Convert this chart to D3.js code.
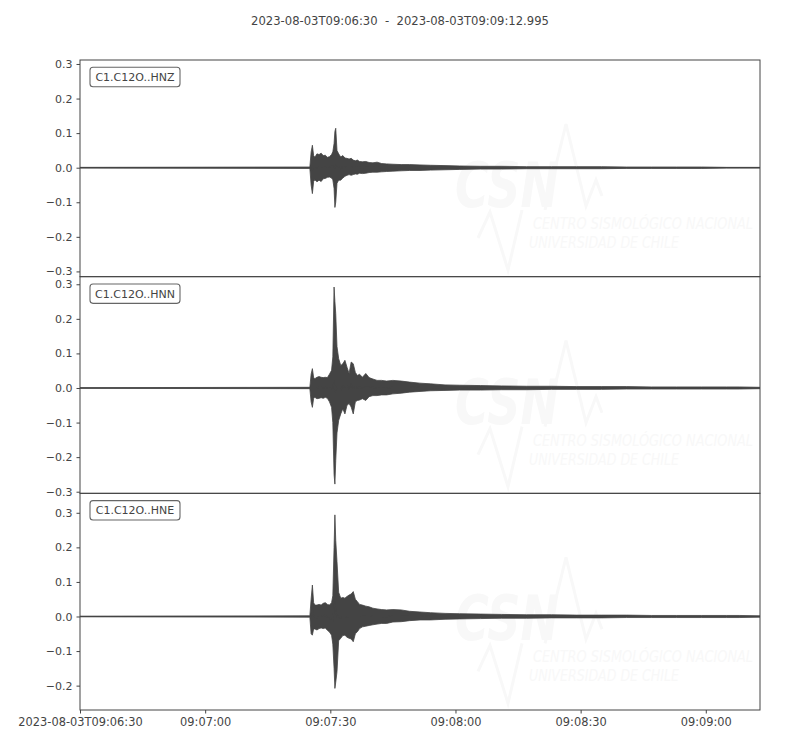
<!DOCTYPE html>
<html>
<head>
<meta charset="utf-8">
<script src="https://cdn.jsdelivr.net/npm/d3@7"></script>
<style>
  html, body { margin: 0; padding: 0; background: #fff; }
  svg { display: block; font-family: "DejaVu Sans", sans-serif; }
</style>
</head>
<body>
<svg id="chart" width="800" height="750"></svg>
<script>
// ---------------- DATA ----------------
const titleText = "2023-08-03T09:06:30  -  2023-08-03T09:09:12.995";
const channels = ["C1.C12O..HNZ", "C1.C12O..HNN", "C1.C12O..HNE"];
const totalSeconds = 162.995;
const xTickSeconds = [0, 30, 60, 90, 120, 150];
const xTickLabels = ["2023-08-03T09:06:30", "09:07:00", "09:07:30", "09:08:00", "09:08:30", "09:09:00"];
const yLimMax = [0.3115, 0.322, 0.3563];
const yLimMin = [-0.3152, -0.3047, -0.2705];
const yTicks = [
  [-0.3, -0.2, -0.1, 0.0, 0.1, 0.2, 0.3],
  [-0.3, -0.2, -0.1, 0.0, 0.1, 0.2, 0.3],
  [-0.2, -0.1, 0.0, 0.1, 0.2, 0.3]
];
// seconds after 09:06:30 (envelope sample times)
const times = [0, 55.1, 55.4, 55.7, 56.0, 56.3, 56.8, 57.3, 57.8, 58.3, 58.8, 59.3, 59.8, 60.3, 60.6, 60.9, 61.1, 61.3, 61.6, 62.0,
  62.5, 63.0, 63.5, 64.0, 64.5, 65.0, 65.5, 66.0, 66.5, 67.0, 67.7, 68.5, 69.3, 70.2, 71.2, 72.3, 73.5, 75.0, 77.0, 79.0,
  81.5, 84.0, 87.5, 91.0, 96.0, 101.0, 107.0, 113.0, 119.0, 125.0, 131.0, 137.0, 143.0, 149.0, 155.0, 158.0, 163.0];
const hnzMax = [0.001, 0.002, 0.045, 0.065, 0.035, 0.03, 0.04, 0.038, 0.042, 0.035, 0.036, 0.03, 0.032, 0.038, 0.046, 0.07, 0.105, 0.114, 0.05, 0.04,
  0.031, 0.035, 0.028, 0.027, 0.025, 0.027, 0.022, 0.02, 0.022, 0.018, 0.017, 0.018, 0.015, 0.014, 0.016, 0.012, 0.011, 0.01, 0.009, 0.009,
  0.008, 0.007, 0.006, 0.005, 0.004, 0.004, 0.003, 0.003, 0.003, 0.003, 0.002, 0.002, 0.002, 0.002, 0.001, 0.001, 0.001];
const hnzMin = [-0.001, -0.002, -0.05, -0.075, -0.04, -0.035, -0.041, -0.036, -0.04, -0.032, -0.031, -0.028, -0.027, -0.03, -0.035, -0.06, -0.115, -0.1, -0.045, -0.036,
  -0.036, -0.03, -0.025, -0.022, -0.02, -0.022, -0.02, -0.018, -0.019, -0.016, -0.017, -0.016, -0.014, -0.013, -0.013, -0.012, -0.011, -0.01, -0.009, -0.008,
  -0.008, -0.007, -0.006, -0.005, -0.004, -0.004, -0.003, -0.003, -0.003, -0.003, -0.002, -0.002, -0.002, -0.002, -0.001, -0.001, -0.001];
const hnnMax = [0.001, 0.002, 0.04, 0.056, 0.03, 0.027, 0.031, 0.033, 0.031, 0.03, 0.031, 0.03, 0.04, 0.051, 0.09, 0.292, 0.25, 0.215, 0.12, 0.085,
  0.065, 0.07, 0.08, 0.06, 0.042, 0.075, 0.07, 0.045, 0.036, 0.04, 0.031, 0.042, 0.03, 0.026, 0.022, 0.022, 0.02, 0.022, 0.02, 0.017,
  0.014, 0.012, 0.009, 0.008, 0.007, 0.006, 0.005, 0.005, 0.004, 0.004, 0.004, 0.003, 0.003, 0.003, 0.003, 0.003, 0.002];
const hnnMin = [-0.001, -0.002, -0.04, -0.056, -0.03, -0.027, -0.031, -0.03, -0.028, -0.03, -0.027, -0.03, -0.04, -0.056, -0.1, -0.25, -0.278, -0.21, -0.13, -0.094,
  -0.075, -0.06, -0.075, -0.05, -0.045, -0.055, -0.075, -0.04, -0.036, -0.035, -0.031, -0.036, -0.025, -0.022, -0.022, -0.02, -0.02, -0.017, -0.015, -0.012,
  -0.01, -0.008, -0.007, -0.006, -0.006, -0.005, -0.005, -0.004, -0.004, -0.004, -0.003, -0.003, -0.003, -0.003, -0.003, -0.003, -0.002];
const hneMax = [0.001, 0.002, 0.05, 0.091, 0.04, 0.033, 0.033, 0.035, 0.033, 0.038, 0.04, 0.035, 0.033, 0.04, 0.06, 0.2, 0.294, 0.22, 0.159, 0.07,
  0.053, 0.055, 0.053, 0.058, 0.062, 0.065, 0.072, 0.05, 0.043, 0.035, 0.033, 0.03, 0.028, 0.024, 0.022, 0.02, 0.019, 0.02, 0.019, 0.015,
  0.013, 0.011, 0.009, 0.008, 0.007, 0.006, 0.005, 0.005, 0.004, 0.004, 0.004, 0.003, 0.003, 0.003, 0.003, 0.003, 0.002];
const hneMin = [-0.001, -0.002, -0.05, -0.054, -0.036, -0.036, -0.039, -0.035, -0.033, -0.035, -0.033, -0.04, -0.045, -0.054, -0.08, -0.15, -0.208, -0.19, -0.16, -0.07,
  -0.063, -0.055, -0.054, -0.06, -0.063, -0.065, -0.073, -0.05, -0.044, -0.035, -0.03, -0.028, -0.026, -0.024, -0.022, -0.02, -0.02, -0.016, -0.015, -0.012,
  -0.01, -0.01, -0.008, -0.007, -0.006, -0.005, -0.005, -0.004, -0.004, -0.004, -0.003, -0.003, -0.003, -0.003, -0.003, -0.003, -0.002];
const envMax = [hnzMax, hnnMax, hneMax];
const envMin = [hnzMin, hnnMin, hneMin];
const watermarkLines = ["CENTRO SISMOLÓGICO NACIONAL", "UNIVERSIDAD DE CHILE"];

// ---------------- LAYOUT ----------------
const svg = d3.select("#chart");
const plotLeft = 80, plotRight = 760, plotTop = 60, plotBottom = 710;
const panelH = (plotBottom - plotTop) / 3;
const ink = "#444444";
const wmColor = "#f8f8f8";
const x = d3.scaleLinear().domain([0, totalSeconds]).range([plotLeft, plotRight]);

svg.append("text")
  .attr("x", 400).attr("y", 24.5)
  .attr("text-anchor", "middle")
  .attr("font-size", 11.6)
  .attr("fill", ink)
  .style("white-space", "pre")
  .attr("xml:space", "preserve")
  .text(titleText);

channels.forEach((ch, i) => {
  const y0 = plotTop + i * panelH, y1 = y0 + panelH;
  const y = d3.scaleLinear().domain([yLimMin[i], yLimMax[i]]).range([y1, y0]);
  const g = svg.append("g");

  const clipId = "clip" + i;
  svg.append("clipPath").attr("id", clipId)
    .append("rect").attr("x", plotLeft).attr("y", y0).attr("width", plotRight - plotLeft).attr("height", panelH);

  // faint watermark
  const wm = g.append("g").attr("fill", wmColor).attr("stroke", "none");
  wm.append("path")
    .attr("d", `M478,${y0+178} L490,${y0+152} L508,${y0+210} L522,${y0+150} M545,${y0+150} L566,${y0+64} L586,${y0+146} L596,${y0+120} L602,${y0+136}`)
    .attr("fill", "none").attr("stroke", wmColor).attr("stroke-width", 3).attr("stroke-linejoin", "miter");
  wm.append("text").attr("x", 455).attr("y", y0 + 147)
    .attr("font-size", 62).attr("font-weight", "bold").attr("font-style", "italic")
    .attr("textLength", 104).attr("lengthAdjust", "spacingAndGlyphs")
    .text("CSN");
  wm.append("text").attr("x", 533).attr("y", y0 + 169)
    .attr("font-size", 15.5).attr("font-style", "italic")
    .attr("textLength", 220).attr("lengthAdjust", "spacingAndGlyphs")
    .text(watermarkLines[0]);
  wm.append("text").attr("x", 529).attr("y", y0 + 188)
    .attr("font-size", 15.5).attr("font-style", "italic")
    .attr("textLength", 150).attr("lengthAdjust", "spacingAndGlyphs")
    .text(watermarkLines[1]);

  // waveform envelope
  const pts = times.map((t, k) => ({ t, hi: envMax[i][k], lo: envMin[i][k] }));
  const area = d3.area().x(d => x(d.t)).y0(d => y(d.lo)).y1(d => y(d.hi)).curve(d3.curveLinear);
  g.append("path").datum(pts)
    .attr("clip-path", `url(#${clipId})`)
    .attr("d", area)
    .attr("fill", ink).attr("stroke", ink).attr("stroke-width", 0.8).attr("stroke-linejoin", "miter");
  // trace baseline
  g.append("path").datum(pts)
    .attr("d", d3.line().x(d => x(d.t)).y(d => y((d.hi + d.lo) / 2)))
    .attr("fill", "none").attr("stroke", ink).attr("stroke-width", 1.2);

  // frame
  g.append("rect").attr("x", plotLeft).attr("y", y0).attr("width", plotRight - plotLeft).attr("height", panelH)
    .attr("fill", "none").attr("stroke", ink).attr("stroke-width", 1);

  // y axis
  const ya = g.append("g").attr("transform", `translate(${plotLeft},0)`)
    .call(d3.axisLeft(y).tickValues(yTicks[i]).tickFormat(d3.format(".1f")).tickSize(3.5).tickPadding(4));
  ya.select(".domain").remove();
  ya.selectAll("line").attr("stroke", ink);
  ya.selectAll("text").attr("fill", ink).attr("font-size", 11).attr("font-family", "DejaVu Sans");

  // channel label box
  const lb = g.append("g");
  lb.append("rect").attr("x", 90).attr("y", y0 + 7.3).attr("width", 90).attr("height", 19.4)
    .attr("rx", 3).attr("fill", "#fff").attr("stroke", "#666").attr("stroke-width", 1.1);
  lb.append("text").attr("x", 135).attr("y", y0 + 21)
    .attr("text-anchor", "middle").attr("font-size", 11).attr("fill", ink).text(ch);

  if (i === channels.length - 1) {
    const xa = g.append("g").attr("transform", `translate(0,${plotBottom})`)
      .call(d3.axisBottom(x).tickValues(xTickSeconds).tickFormat((d, k) => xTickLabels[k]).tickSize(3.5).tickPadding(4));
    xa.select(".domain").remove();
    xa.selectAll("line").attr("stroke", ink);
    xa.selectAll("text").attr("fill", ink).attr("font-size", 11.4).attr("font-family", "DejaVu Sans");
  }
});
</script>
</body>
</html>
